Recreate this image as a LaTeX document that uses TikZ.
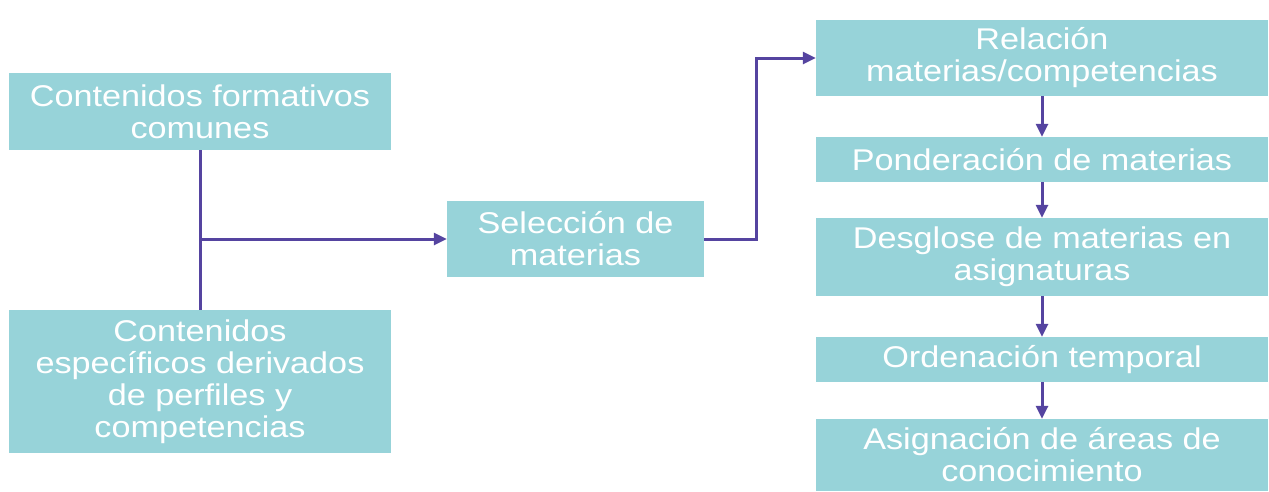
\documentclass[tikz,border=0pt]{standalone}
\usepackage{fontspec}
\setmainfont{Liberation Sans}[FakeStretch=1.14]
\usetikzlibrary{arrows.meta}
\definecolor{boxfill}{RGB}{151,211,217}
\definecolor{arrcol}{RGB}{85,68,160}
\tikzset{
  box/.style={rectangle, fill=boxfill, draw=none, text=white, align=center, inner sep=0pt,
    font=\fontsize{30}{32}\selectfont},
  conn/.style={draw=arrcol, line width=3pt},
  arr/.style={conn, -{Triangle[length=13pt,width=12pt]}}
}
\begin{document}
\begin{tikzpicture}[x=1pt,y=-1pt]
\useasboundingbox (0,0) rectangle (1269,491);
\node[box, minimum width=382, minimum height=77] (a) at (200,111.5) {Contenidos formativos\\comunes};
\node[box, minimum width=382, minimum height=143] (b) at (200,381.5) {Contenidos\\específicos derivados\\de perfiles y\\competencias};
\node[box, minimum width=257, minimum height=76] (c) at (575.5,239) {Selección de\\materias};
\node[box, minimum width=452, minimum height=76] (r1) at (1042,58) {Relación\\materias/competencias};
\node[box, minimum width=452, minimum height=45] (r2) at (1042,159.5) {Ponderación de materias};
\node[box, minimum width=452, minimum height=78] (r3) at (1042,257) {Desglose de materias en\\asignaturas};
\node[box, minimum width=452, minimum height=45] (r4) at (1042,359.5) {Ordenación temporal};
\node[box, minimum width=452, minimum height=72] (r5) at (1042,455) {Asignación de áreas de\\conocimiento};
\coordinate (j) at (a.south |- c.west);
\draw[conn] (a.south) -- (b.north);
\draw[arr] (j) -- (c.west);
\draw[arr] (c.east) -- ++(52,0) |- (r1.west);
\draw[arr] (r1.south) -- (r2.north);
\draw[arr] (r2.south) -- (r3.north);
\draw[arr] (r3.south) -- (r4.north);
\draw[arr] (r4.south) -- (r5.north);
\end{tikzpicture}
\end{document}
